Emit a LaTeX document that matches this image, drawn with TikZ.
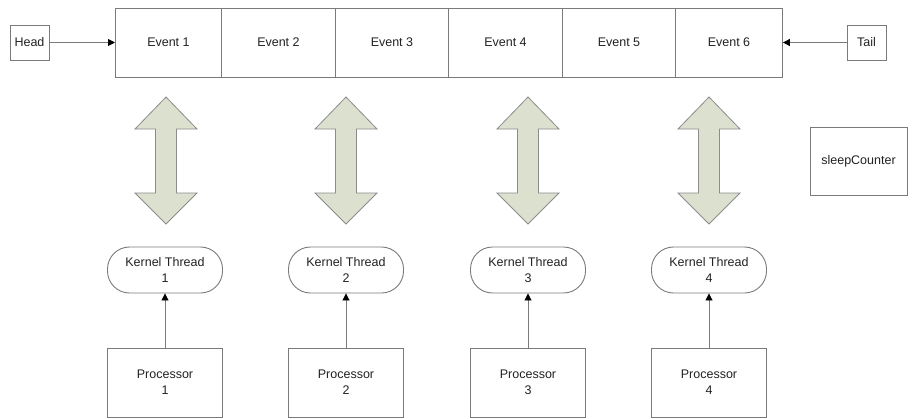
\documentclass[tikz,border=0pt]{standalone}
\usepackage{fontspec}
\setmainfont{Liberation Sans}
\usetikzlibrary{arrows.meta}
\definecolor{lin}{HTML}{7A7A7A}
\definecolor{txt}{HTML}{222222}
\definecolor{dfill}{HTML}{DCE0CF}
\definecolor{dline}{HTML}{8C8C8C}
\begin{document}
\begin{tikzpicture}[x=1pt,y=-1pt,
  every node/.style={font=\fontsize{12.5}{16}\selectfont, text=txt, inner sep=0pt, align=center},
  cell/.style={draw=lin, line width=0.9pt, minimum height=69pt, anchor=west},
  small/.style={draw=lin, line width=0.9pt, minimum width=39pt, minimum height=35pt},
  kthread/.style={draw=lin, line width=0.9pt, rounded corners=22pt, minimum width=115pt, minimum height=46pt},
  proc/.style={draw=lin, line width=0.9pt, minimum width=115pt, minimum height=69pt},
  conn/.style={draw=lin, line width=0.9pt, -{Triangle[length=7pt,width=7pt,color=black]}},
  dbl/.style={draw=dline, fill=dfill, line width=0.8pt, line join=miter}]
\useasboundingbox (0,0) rectangle (912,418);
% event strip
\node[cell, minimum width=106pt] (e1) at (115,42.5) {Event 1};
\node[cell, minimum width=114pt] (e2) at (221,42.5) {Event 2};
\node[cell, minimum width=113pt] (e3) at (335,42.5) {Event 3};
\node[cell, minimum width=114pt] (e4) at (448,42.5) {Event 4};
\node[cell, minimum width=113pt] (e5) at (562,42.5) {Event 5};
\node[cell, minimum width=107pt] (e6) at (675,42.5) {Event 6};
% head / tail
\node[small] (head) at (29.5,42.5) {Head};
\node[small] (tail) at (866.5,42.5) {Tail};
\draw[conn] (head.east) -- (e1.west);
\draw[conn] (tail.west) -- (e6.east);
% sleep counter
\node[draw=lin, line width=0.9pt, minimum width=97pt, minimum height=68pt] (sleep) at (858.5,161) {sleepCounter};
% double arrows
\foreach \cx in {166,346,528,709}{
  \draw[dbl] (\cx,97) -- (\cx+31,129) -- (\cx+10.5,129) -- (\cx+10.5,193) -- (\cx+31,193)
     -- (\cx,224) -- (\cx-31,193) -- (\cx-10.5,193) -- (\cx-10.5,129) -- (\cx-31,129) -- cycle;
}
% kernel threads and processors
\foreach \i/\cx in {1/165,2/346,3/528,4/709}{
  \node[kthread] (k\i) at (\cx,270) {Kernel Thread\\\i};
  \node[proc] (p\i) at (\cx,382.5) {Processor\\\i};
  \draw[conn] (p\i.north) -- (k\i.south);
}
\end{tikzpicture}
\end{document}
